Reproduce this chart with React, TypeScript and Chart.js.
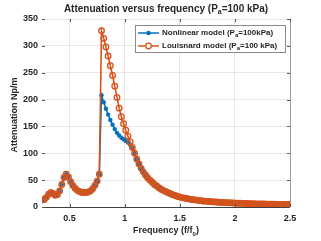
import { useEffect, useRef } from 'react';
import { Chart, registerables } from 'chart.js';

Chart.register(...registerables);

// Normalised frequency f/f0
const freq = [
  0.25, 0.27, 0.29, 0.31, 0.33, 0.35, 0.37, 0.39, 0.41, 0.43, 0.45, 0.47, 0.49, 0.51, 0.53, 0.55, 0.57, 0.59,
  0.61, 0.63, 0.65, 0.67, 0.69, 0.71, 0.73, 0.75, 0.77,
  0.79, 0.81, 0.83, 0.85, 0.87, 0.89, 0.91, 0.93, 0.95, 0.97, 0.99, 1.01, 1.03, 1.05, 1.07,
  1.09, 1.11, 1.13, 1.15, 1.17, 1.19, 1.21, 1.23, 1.25, 1.27, 1.29, 1.31, 1.33, 1.35, 1.37, 1.39, 1.41, 1.43,
  1.45, 1.47, 1.49, 1.51, 1.53, 1.55, 1.57, 1.59, 1.61, 1.63, 1.65, 1.67, 1.69, 1.71, 1.73, 1.75, 1.77, 1.79,
  1.81, 1.83, 1.85, 1.87, 1.89, 1.91, 1.93, 1.95, 1.97, 1.99, 2.01, 2.03, 2.05, 2.07, 2.09, 2.11, 2.13, 2.15,
  2.17, 2.19, 2.21, 2.23, 2.25, 2.27, 2.29, 2.31, 2.33, 2.35, 2.37, 2.39, 2.41, 2.43, 2.45, 2.47, 2.49, 2.5,
];

// Both models coincide below the jump (0.25 .. 0.77)
const lowBand = [
  13, 14, 18, 24, 27, 25, 22, 23, 30, 42, 55, 61, 56, 47, 40, 35, 31, 29, 27, 27, 27, 28, 30, 34, 40, 48, 61,
];

// 0.79 .. 1.07
const nonlinearMid = [208, 195, 183, 172, 162, 153, 145, 138, 133, 129, 126, 123, 120, 116, 110];
const louisnardMid = [328, 314, 298, 281, 263, 245, 225, 204, 184, 168, 155, 143, 132, 121, 111];

// Both models coincide above 1.09
const tail = [
  100, 89, 80, 72, 65, 59, 54, 50, 46, 42, 39, 36, 33, 31, 29, 27, 25, 23.5, 22, 20.5, 19, 18, 17, 16.2, 15.4,
  14.7, 14, 13.4, 12.8, 12.3, 11.8, 11.3, 10.9, 10.5, 10.1, 9.8, 9.5, 9.2, 8.9, 8.6, 8.4, 8.2, 8.0, 7.8, 7.6,
  7.4, 7.2, 7.0, 6.9, 6.7, 6.6, 6.4, 6.3, 6.2, 6.0, 5.9, 5.8, 5.7, 5.6, 5.5, 5.4, 5.3, 5.2, 5.1, 5.0, 4.9,
  4.85, 4.8, 4.7, 4.65, 4.6, 4.6,
];

const nonlinear = [...lowBand, ...nonlinearMid, ...tail];
const louisnard = [...lowBand, ...louisnardMid, ...tail];

const xTicks = [0.5, 1, 1.5, 2, 2.5];
const yTicks = [0, 50, 100, 150, 200, 250, 300, 350];

const BLUE = '#0072BD';
const ORANGE = '#D95319';
const TEXT = '#262626';
const FONT = '"Liberation Sans", Arial, Helvetica, sans-serif';

type Seg = { t: string; sub?: boolean };

function drawRich(
  ctx: CanvasRenderingContext2D,
  segs: Seg[],
  x: number,
  y: number,
  size: number,
  align: 'center' | 'left'
) {
  const mainF = `bold ${size}px ${FONT}`;
  const subF = `bold ${Math.round(size * 0.72)}px ${FONT}`;
  const widths = segs.map((s) => {
    ctx.font = s.sub ? subF : mainF;
    return ctx.measureText(s.t).width;
  });
  const total = widths.reduce((a, b) => a + b, 0);
  let cx = align === 'center' ? x - total / 2 : x;
  ctx.textAlign = 'left';
  ctx.textBaseline = 'middle';
  segs.forEach((s, i) => {
    ctx.font = s.sub ? subF : mainF;
    ctx.fillText(s.t, cx, s.sub ? y + size * 0.35 : y);
    cx += widths[i];
  });
}

const decorPlugin = {
  id: 'decor',
  afterDraw(chart: any) {
    const ctx: CanvasRenderingContext2D = chart.ctx;
    const ca = chart.chartArea;
    const xs = chart.scales.x;
    const ys = chart.scales.y;
    ctx.save();

    // axes box
    ctx.lineWidth = 1;
    ctx.strokeStyle = '#9a9a9a';
    ctx.beginPath();
    ctx.moveTo(Math.round(ca.right) + 0.5, ca.top);
    ctx.lineTo(Math.round(ca.right) + 0.5, ca.bottom);
    ctx.stroke();

    ctx.strokeStyle = '#404040';
    ctx.beginPath();
    ctx.moveTo(ca.left, Math.round(ca.bottom) + 0.5);
    ctx.lineTo(ca.right, Math.round(ca.bottom) + 0.5);
    ctx.stroke();

    // inward ticks
    ctx.strokeStyle = '#555';
    xTicks.forEach((v) => {
      const px = Math.round(xs.getPixelForValue(v)) + 0.5;
      ctx.beginPath();
      ctx.moveTo(px, ca.bottom);
      ctx.lineTo(px, ca.bottom - 3);
      ctx.moveTo(px, ca.top);
      ctx.lineTo(px, ca.top + 3);
      ctx.stroke();
    });
    yTicks.forEach((v) => {
      const py = Math.round(ys.getPixelForValue(v)) + 0.5;
      ctx.beginPath();
      ctx.moveTo(ca.left, py);
      ctx.lineTo(ca.left + 3, py);
      ctx.moveTo(ca.right, py);
      ctx.lineTo(ca.right - 3, py);
      ctx.stroke();
    });

    ctx.fillStyle = TEXT;
    const midX = (ca.left + ca.right) / 2;
    // title
    drawRich(
      ctx,
      [{ t: 'Attenuation versus frequency (P' }, { t: 'a', sub: true }, { t: '=100 kPa)' }],
      midX,
      9,
      10,
      'center'
    );
    // x title
    drawRich(ctx, [{ t: 'Frequency (f/f' }, { t: '0', sub: true }, { t: ')' }], midX, 231, 9, 'center');
    // y title
    ctx.save();
    ctx.translate(15, (ca.top + ca.bottom) / 2 + 2);
    ctx.rotate(-Math.PI / 2);
    drawRich(ctx, [{ t: 'Attenuation Np/m' }], 0, 0, 9, 'center');
    ctx.restore();

    // legend
    const lx = 135.5;
    const ly = 25.5;
    ctx.fillStyle = '#ffffff';
    ctx.fillRect(lx, ly, 150, 27);
    ctx.strokeStyle = '#8a8a8a';
    ctx.lineWidth = 1;
    ctx.strokeRect(lx, ly, 150, 27);

    const rows = [
      { y: 33, color: BLUE, open: false, segs: [{ t: 'Nonlinear model (P' }, { t: 'a', sub: true }, { t: '=100kPa)' }] },
      { y: 46, color: ORANGE, open: true, segs: [{ t: 'Louisnard model (P' }, { t: 'a', sub: true }, { t: '=100 kPa)' }] },
    ];
    rows.forEach((r) => {
      ctx.strokeStyle = r.color;
      ctx.lineWidth = 1.5;
      ctx.beginPath();
      ctx.moveTo(138, r.y);
      ctx.lineTo(159, r.y);
      ctx.stroke();
      ctx.beginPath();
      ctx.arc(148.5, r.y, r.open ? 2.8 : 2.2, 0, Math.PI * 2);
      if (r.open) {
        ctx.fillStyle = '#ffffff';
        ctx.fill();
        ctx.lineWidth = 1.3;
        ctx.stroke();
      } else {
        ctx.fillStyle = r.color;
        ctx.fill();
      }
      ctx.fillStyle = TEXT;
      drawRich(ctx, r.segs, 162, r.y, 8, 'left');
    });

    ctx.restore();
  },
};

export default function App() {
  const ref = useRef<HTMLCanvasElement | null>(null);

  useEffect(() => {
    if (!ref.current) return;
    const chart = new Chart(ref.current, {
      type: 'line',
      data: {
        datasets: [
          {
            label: 'Nonlinear model (Pa=100kPa)',
            data: freq.map((f, i) => ({ x: f, y: nonlinear[i] })),
            borderColor: BLUE,
            backgroundColor: BLUE,
            borderWidth: 1.5,
            pointRadius: 2.2,
            pointBorderWidth: 0,
            pointBackgroundColor: BLUE,
            tension: 0,
            order: 2,
          },
          {
            label: 'Louisnard model (Pa=100 kPa)',
            data: freq.map((f, i) => ({ x: f, y: louisnard[i] })),
            borderColor: ORANGE,
            backgroundColor: 'rgba(0,0,0,0)',
            borderWidth: 1.6,
            pointRadius: 2.8,
            pointBorderWidth: 1.3,
            pointBorderColor: ORANGE,
            pointBackgroundColor: 'rgba(255,255,255,0)',
            tension: 0,
            order: 1,
          },
        ],
      },
      options: {
        responsive: false,
        animation: false,
        events: [],
        layout: { padding: { top: 19, right: 31, left: 0, bottom: 0 } },
        plugins: {
          legend: { display: false },
          title: { display: false },
          tooltip: { enabled: false },
        },
        scales: {
          x: {
            type: 'linear',
            min: 0.25,
            max: 2.5,
            afterBuildTicks: (s: any) => {
              s.ticks = xTicks.map((v) => ({ value: v }));
            },
            afterFit: (s: any) => {
              s.height = 34;
            },
            grid: { color: '#e6e6e6', lineWidth: 1, drawTicks: false },
            border: { display: false },
            ticks: {
              padding: 6,
              color: TEXT,
              font: { family: FONT, size: 9, weight: 'bold' },
              maxRotation: 0,
              callback: (v: any) => String(v),
            },
          },
          y: {
            type: 'linear',
            min: 0,
            max: 350,
            afterBuildTicks: (s: any) => {
              s.ticks = yTicks.map((v) => ({ value: v }));
            },
            afterFit: (s: any) => {
              s.width = 42;
            },
            grid: { color: '#e6e6e6', lineWidth: 1, drawTicks: false },
            border: { display: false },
            ticks: {
              padding: 4,
              color: TEXT,
              font: { family: FONT, size: 9, weight: 'bold' },
            },
          },
        },
      },
      plugins: [decorPlugin],
    } as any);
    return () => chart.destroy();
  }, []);

  return (
    <div style={{ position: 'absolute', left: 0, top: 0, width: 321, height: 241, background: '#fff' }}>
      <canvas ref={ref} width={321} height={241} style={{ width: 321, height: 241, display: 'block' }} />
    </div>
  );
}
